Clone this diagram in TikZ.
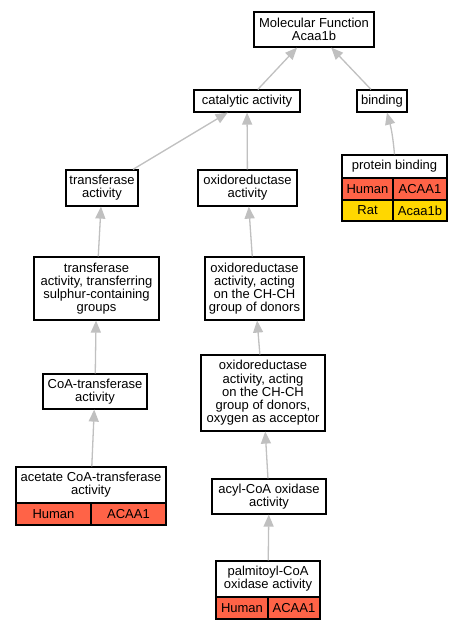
\documentclass[tikz,border=0pt]{standalone}
\usepackage{fontspec}
\setmainfont{Liberation Sans}
\usetikzlibrary{arrows.meta}
\definecolor{edgegray}{RGB}{192,192,192}
\definecolor{human}{RGB}{255,99,71}
\definecolor{rat}{RGB}{255,215,0}
\begin{document}
\begin{tikzpicture}[x=1pt,y=-1pt,
  every node/.style={font=\fontsize{13}{13.2}\selectfont},
  box/.style={draw=black, line width=1.2pt, fill=white, inner sep=0pt, align=center, anchor=center},
  humancell/.style={box, fill=human},
  ratcell/.style={box, fill=rat},
  isa/.style={draw=edgegray, line width=1.3pt, -{Triangle[length=12pt,width=10pt,fill=edgegray]}}
]
\useasboundingbox (0,0) rectangle (463,629);
\fill[white] (0,0) rectangle (463,629);

% nodes
\node[box, minimum width=120pt, minimum height=35pt] (mf) at (314,29.5) {Molecular Function\\Acaa1b};
\node[box, minimum width=106pt, minimum height=22pt] (cat) at (247,101) {catalytic activity};
\node[box, minimum width=50pt, minimum height=22pt] (bind) at (382,101) {binding};

\node[box, minimum width=105pt, minimum height=23pt] (pb) at (394.5,166.5) {protein binding};
\node[humancell, minimum width=51pt, minimum height=22pt] (pbh) at (367.5,189) {Human};
\node[humancell, minimum width=54pt, minimum height=22pt] (pbhg) at (420,189) {ACAA1};
\node[ratcell, minimum width=51pt, minimum height=21pt] (pbr) at (367.5,210.5) {Rat};
\node[ratcell, minimum width=54pt, minimum height=21pt] (pbrg) at (420,210.5) {Acaa1b};

\node[box, minimum width=72pt, minimum height=36pt] (trans) at (102,188) {transferase\\activity};
\node[box, minimum width=99pt, minimum height=36pt] (oxi) at (247.5,188) {oxidoreductase\\activity};

\node[box, minimum width=125pt, minimum height=63pt] (sulph) at (96.5,288.5) {transferase\\activity, transferring\\sulphur-containing\\groups};
\node[box, minimum width=99pt, minimum height=63pt] (chch) at (254.5,288.5) {oxidoreductase\\activity, acting\\on the CH-CH\\group of donors};

\node[box, minimum width=104pt, minimum height=35pt] (coat) at (95,391.5) {CoA-transferase\\activity};
\node[box, minimum width=124pt, minimum height=76pt] (oxy) at (263,393) {oxidoreductase\\activity, acting\\on the CH-CH\\group of donors,\\oxygen as acceptor};

\node[box, minimum width=114pt, minimum height=35pt] (acyl) at (269,496.5) {acyl-CoA oxidase\\activity};

\node[box, minimum width=150pt, minimum height=36pt] (acet) at (91,485) {acetate CoA-transferase\\activity};
\node[humancell, minimum width=75pt, minimum height=22pt] (aceth) at (53.5,514) {Human};
\node[humancell, minimum width=75pt, minimum height=22pt] (acetg) at (128.5,514) {ACAA1};

\node[box, minimum width=104pt, minimum height=36pt] (palm) at (268,579) {palmitoyl-CoA\\oxidase activity};
\node[humancell, minimum width=52pt, minimum height=22pt] (palmh) at (242,608) {Human};
\node[humancell, minimum width=52pt, minimum height=22pt] (palmg) at (294,608) {ACAA1};

% edges (child -> parent)
\draw[isa] (cat) -- (mf);
\draw[isa] (bind) -- (mf);
\draw[isa] (trans) -- (cat);
\draw[isa] (oxi) -- (cat);
\draw[isa] (pb.north) to[out=95,in=-75] ([xshift=5pt]bind.south);
\draw[isa] (sulph) -- (trans);
\draw[isa] (chch) -- (oxi);
\draw[isa] (coat) -- (sulph);
\draw[isa] (oxy) -- (chch);
\draw[isa] (acet) -- (coat);
\draw[isa] (acyl) -- (oxy);
\draw[isa] (palm) -- (acyl);
\end{tikzpicture}
\end{document}
